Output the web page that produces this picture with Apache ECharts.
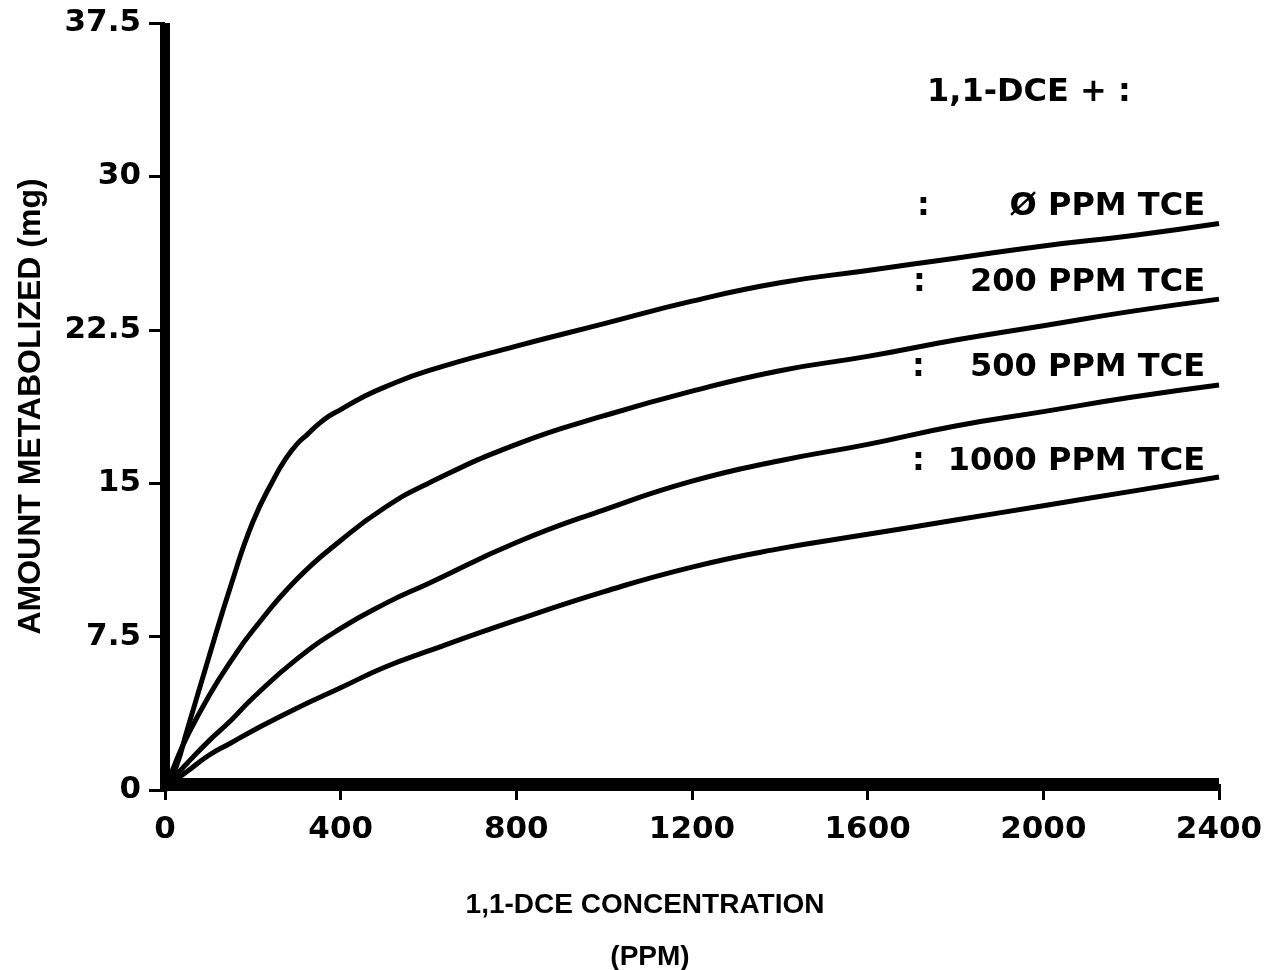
<!DOCTYPE html>
<html lang="en">
<head>
  <meta charset="utf-8" />
  <title>1,1-DCE metabolized</title>
  <script src="https://cdn.jsdelivr.net/npm/echarts@6/dist/echarts.min.js"></script>
  <style>
    html, body { margin: 0; padding: 0; background: #fff; }
    #main { width: 1265px; height: 970px; }
  </style>
</head>
<body>
  <div id="main"></div>
  <script type="text/javascript">
    // 1,1-DCE concentration (PPM) for each series
    var conc0    = [0, 25, 50, 100, 150, 200, 250, 275, 300, 325, 350, 375, 400, 450, 500, 600, 800, 1000, 1200, 1400, 1600, 1800, 2000, 2200, 2400];
    var tce0     = [0, 1.1, 2.9, 6.5, 10.0, 13.1, 15.3, 16.2, 16.9, 17.4, 17.9, 18.3, 18.6, 19.2, 19.7, 20.5, 21.7, 22.8, 23.9, 24.8, 25.4, 26.0, 26.6, 27.1, 27.7];
    var concOther = [0, 25, 50, 100, 150, 200, 300, 400, 500, 600, 800, 1000, 1200, 1400, 1600, 1800, 2000, 2200, 2400];
    var tce200   = [0, 1.4, 2.6, 4.6, 6.3, 7.8, 10.3, 12.2, 13.8, 15.0, 16.9, 18.3, 19.5, 20.5, 21.2, 22.0, 22.7, 23.4, 24.0];
    var tce500   = [0, 0.7, 1.3, 2.4, 3.4, 4.5, 6.4, 7.9, 9.1, 10.1, 12.1, 13.7, 15.1, 16.1, 16.9, 17.8, 18.5, 19.2, 19.8];
    var tce1000  = [0, 0.5, 0.9, 1.7, 2.3, 2.9, 4.0, 5.0, 6.0, 6.8, 8.3, 9.7, 10.9, 11.8, 12.5, 13.2, 13.9, 14.6, 15.3];

    var seriesNames = ['Ø PPM TCE', '200 PPM TCE', '500 PPM TCE', '1000 PPM TCE'];
    var legendTitle = '1,1-DCE + :';
    var xTitle = '1,1-DCE CONCENTRATION';
    var xUnit = '(PPM)';
    var yTitle = 'AMOUNT METABOLIZED (mg)';

    function pairs(xs, ys) {
      return xs.map(function (x, i) { return [x, ys[i]]; });
    }

    var seriesData = [
      pairs(conc0, tce0),
      pairs(concOther, tce200),
      pairs(concOther, tce500),
      pairs(concOther, tce1000)
    ];

    var myChart = echarts.init(document.getElementById('main'));

    var tickFont = { fontFamily: 'DejaVu Sans', fontWeight: 'bold', fontSize: 31, color: '#000' };
    var labelFont = 'bold 32px "DejaVu Sans"';

    // label rows to the right of the curves
    var labelRows = [207, 283, 368, 462];
    var colonX = [917, 913, 912, 912];
    var graphics = [
      { type: 'text', left: 927, top: 77, style: { text: legendTitle, font: labelFont, fill: '#000' } }
    ];
    seriesNames.forEach(function (name, i) {
      graphics.push({
        type: 'text', x: colonX[i], y: labelRows[i],
        style: { text: ':', font: labelFont, fill: '#000', textAlign: 'left', textVerticalAlign: 'middle' }
      });
      graphics.push({
        type: 'text', x: 1205, y: labelRows[i],
        style: { text: name, font: labelFont, fill: '#000', textAlign: 'right', textVerticalAlign: 'middle' }
      });
    });
    graphics.push({
      type: 'text', x: 645, y: 905,
      style: { text: xTitle, font: 'bold 28px "Liberation Sans"', fill: '#000', textAlign: 'center', textVerticalAlign: 'middle' }
    });
    graphics.push({
      type: 'text', x: 650, y: 957,
      style: { text: xUnit, font: 'bold 28px "Liberation Sans"', fill: '#000', textAlign: 'center', textVerticalAlign: 'middle' }
    });

    var option = {
      backgroundColor: '#fff',
      animation: false,
      grid: { left: 165, right: 46, top: 23, bottom: 180, containLabel: false, outerBoundsMode: 'none' },
      xAxis: {
        type: 'value',
        min: 0,
        max: 2400,
        interval: 400,
        offset: -6,
        splitLine: { show: false },
        axisLine: { lineStyle: { color: '#000', width: 13, cap: 'butt' } },
        axisTick: { length: 16, lineStyle: { color: '#000', width: 3 } },
        axisLabel: Object.assign({ margin: 30, formatter: function (v) { return String(v); } }, tickFont)
      },
      yAxis: {
        type: 'value',
        min: 0,
        max: 37.5,
        interval: 7.5,
        splitLine: { show: false },
        axisLine: { lineStyle: { color: '#000', width: 10, cap: 'butt' } },
        axisTick: { length: 16, lineStyle: { color: '#000', width: 3 } },
        axisLabel: Object.assign({ margin: 24, formatter: function (v) { return String(v); } }, tickFont),
        name: yTitle,
        nameLocation: 'middle',
        nameGap: 118,
        nameRotate: 90,
        nameTextStyle: { fontFamily: 'Liberation Sans', fontWeight: 'bold', fontSize: 32, color: '#000' }
      },
      graphic: graphics,
      series: seriesData.map(function (d, i) {
        return {
          type: 'line',
          name: seriesNames[i],
          data: d,
          smooth: 0.5,
          showSymbol: false,
          lineStyle: { color: '#000', width: 5 }
        };
      })
    };
    myChart.setOption(option);
  </script>
</body>
</html>
